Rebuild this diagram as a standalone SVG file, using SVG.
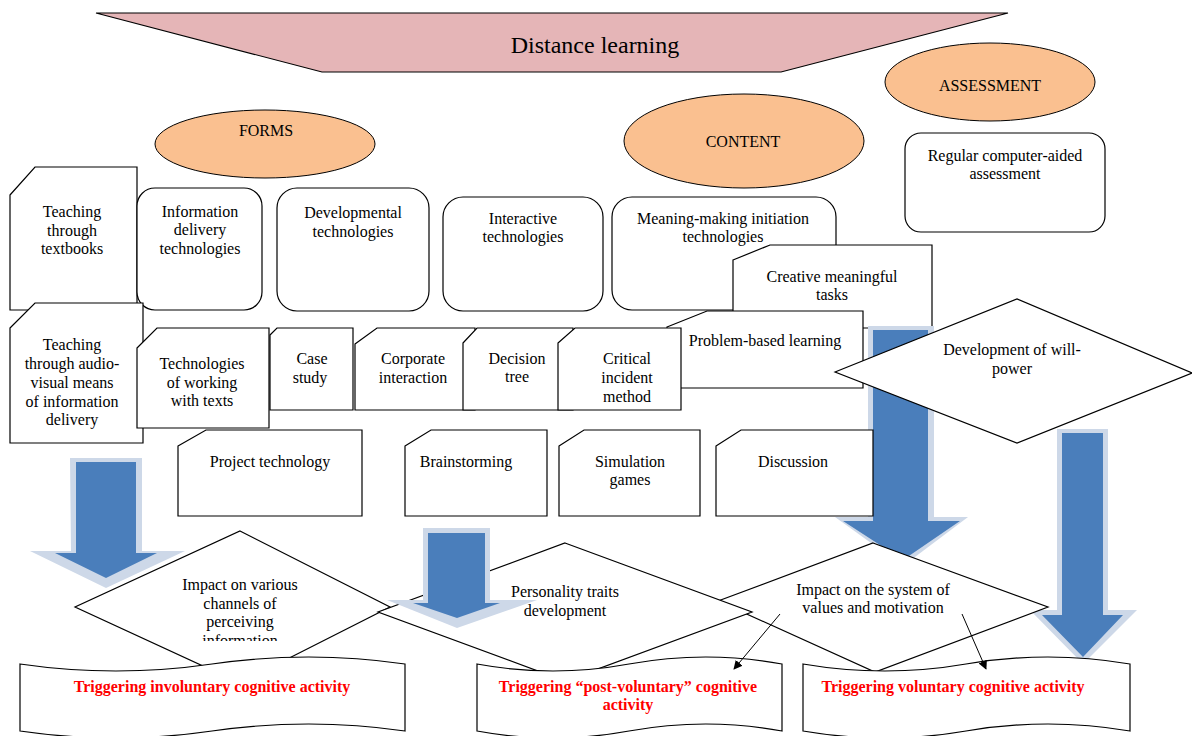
<svg xmlns="http://www.w3.org/2000/svg" width="1192" height="736" viewBox="0 0 1192 736">
<style>
.t{font-family:"Liberation Serif","Times New Roman",serif;font-size:16px;fill:#000;text-anchor:middle}
.r{font-family:"Liberation Serif","Times New Roman",serif;font-size:16px;font-weight:bold;fill:#ff0000;text-anchor:middle}
.b{fill:#fff;stroke:#000;stroke-width:1.2}
.e{fill:#fac090;stroke:#000;stroke-width:1}
.ag{fill:#cdd8e8}
.ab{fill:#4a7ebb}
.c{stroke:#000;stroke-width:1;fill:none}
</style>
<defs>
<marker id="ah" viewBox="0 0 10 10" refX="9" refY="5" markerWidth="9" markerHeight="9" markerUnits="userSpaceOnUse" orient="auto"><path d="M0,0 L10,5 L0,10 z" fill="#000"/></marker>
<clipPath id="clipInfo"><rect x="0" y="0" width="1192" height="641"/></clipPath>
</defs>
<rect width="1192" height="736" fill="#fff"/>

<g id="distance-learning">
<polygon points="96,13 1008,13 781,72 322,72" fill="#e5b5b7" stroke="#000" stroke-width="1.2"/>
<text class="t" x="595" y="53" style="font-size:24px">Distance learning</text>
</g>
<g id="forms"><ellipse class="e" cx="265" cy="144" rx="110" ry="34"/><text class="t" x="266" y="136">FORMS</text></g>
<g id="content"><ellipse class="e" cx="744" cy="141" rx="120" ry="47"/><text class="t" x="743" y="147">CONTENT</text></g>
<g id="assessment"><ellipse class="e" cx="990" cy="82" rx="105" ry="39"/><text class="t" x="990" y="91">ASSESSMENT</text></g>

<g id="regular-assessment"><rect class="b" x="905" y="133" width="200" height="99" rx="16"/>
<text class="t" x="1005" y="161">Regular computer-aided</text><text class="t" x="1005" y="179">assessment</text></g>

<g id="teaching-textbooks"><polygon class="b" points="10,195 35,167 137,167 137,310 10,310"/>
<text class="t" x="72" y="217">Teaching</text><text class="t" x="72" y="236">through</text><text class="t" x="72" y="254">textbooks</text></g>
<g id="info-delivery"><rect class="b" x="137" y="188" width="125" height="122" rx="18"/>
<text class="t" x="200" y="217">Information</text><text class="t" x="200" y="235">delivery</text><text class="t" x="200" y="254">technologies</text></g>
<g id="developmental"><rect class="b" x="277" y="188" width="152" height="123" rx="20"/>
<text class="t" x="353" y="218">Developmental</text><text class="t" x="353" y="237">technologies</text></g>
<g id="interactive"><rect class="b" x="443" y="197" width="160" height="114" rx="20"/>
<text class="t" x="523" y="224">Interactive</text><text class="t" x="523" y="242">technologies</text></g>
<g id="meaning-making"><rect class="b" x="612" y="197" width="224" height="113" rx="20"/>
<text class="t" x="723" y="224">Meaning-making initiation</text><text class="t" x="723" y="242">technologies</text></g>
<g id="creative-tasks"><polygon class="b" points="733,260 770,245 932,245 932,328 733,328"/>
<text class="t" x="832" y="282">Creative meaningful</text><text class="t" x="832" y="300">tasks</text></g>
<g id="problem-based"><polygon class="b" points="667,327 707,311 863,311 863,388 667,388"/>
<text class="t" x="765" y="346">Problem-based learning</text></g>

<g id="audio-visual"><polygon class="b" points="10,328 35,303 143,303 143,443 10,443"/>
<text class="t" x="72" y="350">Teaching</text><text class="t" x="72" y="369">through audio-</text><text class="t" x="72" y="388">visual means</text><text class="t" x="72" y="407">of information</text><text class="t" x="72" y="425">delivery</text></g>
<g id="working-texts"><polygon class="b" points="137,348 157,328 269,328 269,428 137,428"/>
<text class="t" x="202" y="369">Technologies</text><text class="t" x="202" y="388">of working</text><text class="t" x="202" y="406">with texts</text></g>
<g id="case-study"><polygon class="b" points="270,335 277,328 353,328 353,410 270,410"/>
<text class="t" x="312" y="364">Case</text><text class="t" x="310" y="383">study</text></g>
<g id="corporate"><polygon class="b" points="355,344 377,328 475,328 475,410 355,410"/>
<text class="t" x="413" y="364">Corporate</text><text class="t" x="413" y="383">interaction</text></g>
<g id="decision-tree"><polygon class="b" points="463,343 477,328 573,328 573,410 463,410"/>
<text class="t" x="517" y="364">Decision</text><text class="t" x="517" y="382">tree</text></g>
<g id="critical-incident"><polygon class="b" points="558,343 575,328 681,328 681,410 558,410"/>
<text class="t" x="627" y="364">Critical</text><text class="t" x="627" y="383">incident</text><text class="t" x="627" y="402">method</text></g>

<g id="project"><polygon class="b" points="178,446 206,430 362,430 362,516 178,516"/><text class="t" x="270" y="467">Project technology</text></g>
<g id="brainstorming"><polygon class="b" points="405,446 431,430 547,430 547,516 405,516"/><text class="t" x="466" y="467">Brainstorming</text></g>
<g id="simulation"><polygon class="b" points="559,446 584,430 700,430 700,516 559,516"/><text class="t" x="630" y="467">Simulation</text><text class="t" x="630" y="485">games</text></g>

<g id="arrows">
<polygon class="ag" points="70,458 142,458 142,551 185,551 106,588 30,551 71,551"/>
<polygon class="ab" points="76,462 136,462 136,553 157,553 106,578 55,553 76,553"/>
<polygon class="ag" points="868,326 934,326 934,517 968,517 903,566 835,517 868,517"/>
<polygon class="ab" points="873,330 928,330 928,521 960,521 903,560 843,521 873,521"/>
<polygon class="ag" points="1057,429 1108,429 1108,610 1137,610 1083,664 1030,610 1057,610"/>
<polygon class="ab" points="1062,433 1103,433 1103,615 1123,615 1083,657 1042,615 1062,615"/>
</g>

<g id="discussion"><polygon class="b" points="716,446 741,430 873,430 873,516 716,516"/><text class="t" x="793" y="467">Discussion</text></g>

<g id="will-power"><polygon class="b" points="835,372 1017,299 1192,373 1017,443"/>
<text class="t" x="1012" y="355">Development of will-</text><text class="t" x="1012" y="374">power</text></g>

<g id="impact-channels"><polygon class="b" points="240,531 390,607 240,683 75,607"/>
<g clip-path="url(#clipInfo)"><text class="t" x="240" y="590">Impact on various</text><text class="t" x="240" y="609">channels of</text><text class="t" x="240" y="627">perceiving</text><text class="t" x="240" y="646">information</text></g></g>
<g id="impact-values"><polygon class="b" points="873,543 1048,607 875,672 718,601"/>
<text class="t" x="873" y="595">Impact on the system of</text><text class="t" x="873" y="613">values and motivation</text></g>
<g id="personality"><polygon class="b" points="565,543 752,612 565,681 378,612"/>
<text class="t" x="565" y="597">Personality traits</text><text class="t" x="565" y="616">development</text></g>

<g id="arrow-mid">
<polygon class="ag" points="423,528 490,528 490,600 537,600 457,628 387,600 423,600"/>
<polygon class="ab" points="428,533 485,533 485,603 500,603 457,618 413,603 428,603"/>
</g>

<g id="trigger-involuntary"><path class="b" d="M20,664 Q116,678 212,664 Q309,650 405,664 L405,731 Q309,717 212,731 Q116,745 20,731 Z"/>
<text class="r" x="212" y="692">Triggering involuntary cognitive activity</text></g>
<g id="trigger-post"><path class="b" d="M477,664 Q553,678 629,664 Q706,650 782,664 L782,731 Q706,717 629,731 Q553,745 477,731 Z"/>
<text class="r" x="628" y="692">Triggering “post-voluntary” cognitive</text><text class="r" x="628" y="710">activity</text></g>
<g id="trigger-voluntary"><path class="b" d="M803,664 Q885,678 966,664 Q1048,650 1130,664 L1130,731 Q1048,717 966,731 Q885,745 803,731 Z"/>
<text class="r" x="953" y="692">Triggering voluntary cognitive activity</text></g>

<g id="connectors">
<line class="c" x1="780" y1="614" x2="734" y2="669" marker-end="url(#ah)"/>
<line class="c" x1="962" y1="614" x2="986" y2="669" marker-end="url(#ah)"/>
</g>
</svg>
